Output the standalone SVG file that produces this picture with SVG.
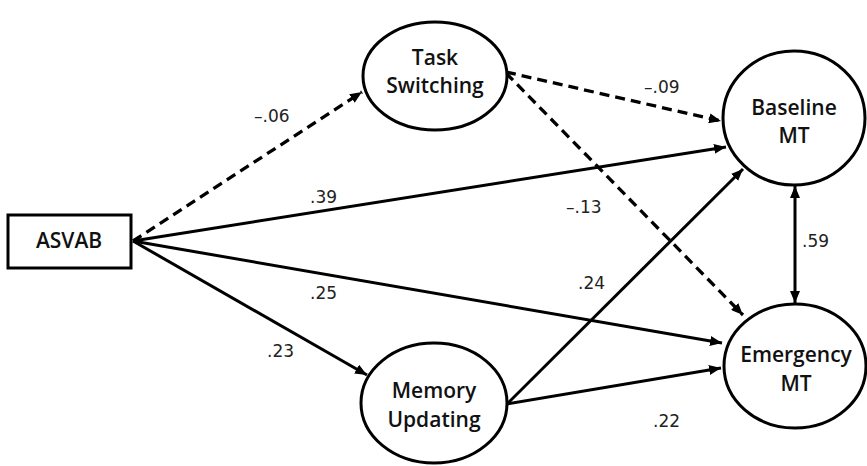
<svg xmlns="http://www.w3.org/2000/svg" width="867" height="466" viewBox="0 0 867 466">
<style>
.node{fill:#fff;stroke:#000;stroke-width:3}
.lbl{font-family:"Open Sans","Liberation Sans",sans-serif;font-weight:600;font-size:21px;fill:#111;text-anchor:middle}
.num{font-family:"DejaVu Sans","Liberation Sans",sans-serif;font-size:17px;fill:#222}
.e{fill:none;stroke:#000;stroke-width:3}
.d{stroke-dasharray:10 6;stroke-width:3.3}
</style>
<defs>
<marker id="ah" viewBox="0 0 12 10" refX="12" refY="5" markerWidth="12" markerHeight="10" markerUnits="userSpaceOnUse" orient="auto-start-reverse">
<path d="M0,0 L12,5 L0,10 Z" fill="#000"/>
</marker>
</defs>
<g id="connectors">
<line class="e d" x1="133" y1="241" x2="362" y2="92" marker-end="url(#ah)"/>
<line class="e" x1="133" y1="241" x2="726" y2="147" marker-end="url(#ah)"/>
<line class="e" x1="133" y1="241" x2="722" y2="343" marker-end="url(#ah)"/>
<line class="e" x1="133" y1="241" x2="367" y2="375" marker-end="url(#ah)"/>
<line class="e d" x1="506" y1="72" x2="721" y2="121" marker-end="url(#ah)"/>
<line class="e d" x1="506" y1="73" x2="743" y2="315" marker-end="url(#ah)"/>
<line class="e" x1="507" y1="404" x2="743" y2="169" marker-end="url(#ah)"/>
<line class="e" x1="507" y1="404" x2="721" y2="368" marker-end="url(#ah)"/>
<line class="e" x1="795" y1="186" x2="795" y2="303" marker-start="url(#ah)" marker-end="url(#ah)"/>
</g>
<g id="ASVAB">
<rect class="node" x="8" y="215" width="123" height="53"/>
<text class="lbl" x="69" y="248">ASVAB</text>
</g>
<g id="TaskSwitching">
<ellipse class="node" cx="435" cy="76" rx="72" ry="54"/>
<text class="lbl" x="435" y="65">Task</text>
<text class="lbl" x="435" y="93">Switching</text>
</g>
<g id="MemoryUpdating">
<ellipse class="node" cx="434" cy="403" rx="73" ry="60"/>
<text class="lbl" x="434" y="398">Memory</text>
<text class="lbl" x="434" y="427">Updating</text>
</g>
<g id="BaselineMT">
<ellipse class="node" cx="794" cy="118" rx="71" ry="67"/>
<text class="lbl" x="794" y="115">Baseline</text>
<text class="lbl" x="794" y="143">MT</text>
</g>
<g id="EmergencyMT">
<ellipse class="node" cx="795" cy="366" rx="71" ry="62"/>
<text class="lbl" x="796" y="362">Emergency</text>
<text class="lbl" x="796" y="391">MT</text>
</g>
<g id="labels">
<text class="num" x="254" y="122">–.06</text>
<text class="num" x="310" y="203">.39</text>
<text class="num" x="644" y="93">–.09</text>
<text class="num" x="566" y="213">–.13</text>
<text class="num" x="578" y="289">.24</text>
<text class="num" x="310" y="299">.25</text>
<text class="num" x="267" y="357">.23</text>
<text class="num" x="653" y="427">.22</text>
<text class="num" x="802" y="247">.59</text>
</g>
</svg>
